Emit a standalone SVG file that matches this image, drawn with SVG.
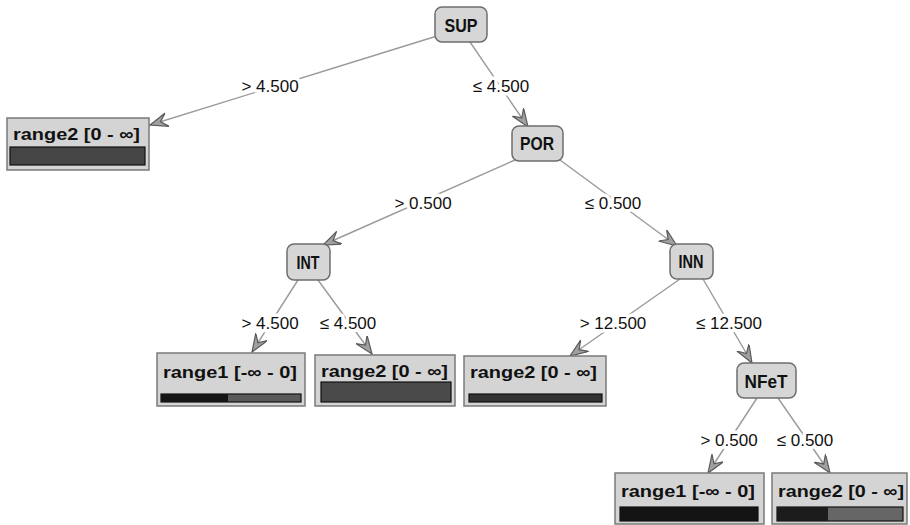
<svg xmlns="http://www.w3.org/2000/svg" width="910" height="525" viewBox="0 0 910 525">
<style>
.node rect{fill:#d6d6d6;stroke:#6e6e6e;stroke-width:1.5}
.node text{font-family:"Liberation Sans",Arial,sans-serif;font-size:18px;font-weight:bold;fill:#111;text-anchor:middle}
.leaf .box{fill:#d4d4d4;stroke:#7a7a7a;stroke-width:1.5}
.leaf text{font-family:"Liberation Sans",Arial,sans-serif;font-size:17px;font-weight:bold;fill:#111}
.bar{stroke:#111;stroke-width:1.2}
.edge{stroke:#9a9a9a;stroke-width:1.4;fill:none;marker-end:url(#arr)}
.lbl{font-family:"Liberation Sans",Arial,sans-serif;font-size:17px;fill:#111;text-anchor:middle;stroke:#fff;stroke-width:7;paint-order:stroke;stroke-linejoin:round}
</style>
<defs>
<marker id="arr" markerWidth="20" markerHeight="16" refX="18" refY="7" orient="auto" markerUnits="userSpaceOnUse">
<path d="M0,0 L18,7 L0,14 L7,7 z" fill="#a0a0a0" stroke="#5a5a5a" stroke-width="1.2"/>
</marker>
</defs>
<rect width="910" height="525" fill="#fff"/>
<g id="connectors">
<line class="edge" x1="437" y1="36" x2="150" y2="125"/>
<line class="edge" x1="470" y1="42" x2="528" y2="127"/>
<line class="edge" x1="515" y1="160" x2="323" y2="245"/>
<line class="edge" x1="560" y1="160" x2="677" y2="246"/>
<line class="edge" x1="298" y1="280" x2="252" y2="352"/>
<line class="edge" x1="318" y1="280" x2="372" y2="354"/>
<line class="edge" x1="680" y1="279" x2="570" y2="356"/>
<line class="edge" x1="703" y1="279" x2="752" y2="363"/>
<line class="edge" x1="757" y1="398" x2="708" y2="473"/>
<line class="edge" x1="778" y1="398" x2="830" y2="473"/>
<text class="lbl" x="270" y="92">&gt; 4.500</text>
<text class="lbl" x="501" y="92">≤ 4.500</text>
<text class="lbl" x="423" y="209">&gt; 0.500</text>
<text class="lbl" x="613" y="209">≤ 0.500</text>
<text class="lbl" x="270" y="329">&gt; 4.500</text>
<text class="lbl" x="348" y="329">≤ 4.500</text>
<text class="lbl" x="613" y="329">&gt; 12.500</text>
<text class="lbl" x="729" y="329">≤ 12.500</text>
<text class="lbl" x="729" y="446">&gt; 0.500</text>
<text class="lbl" x="805" y="446">≤ 0.500</text>
</g>
<g id="SUP" class="node"><rect x="435" y="7" width="52" height="35" rx="7"/><text x="461" y="32" textLength="33" lengthAdjust="spacingAndGlyphs">SUP</text></g>
<g id="POR" class="node"><rect x="512" y="126" width="51" height="35" rx="7"/><text x="537" y="150" textLength="34" lengthAdjust="spacingAndGlyphs">POR</text></g>
<g id="INT" class="node"><rect x="287" y="244" width="43" height="36" rx="7"/><text x="308" y="269" textLength="23" lengthAdjust="spacingAndGlyphs">INT</text></g>
<g id="INN" class="node"><rect x="670" y="244" width="43" height="35" rx="7"/><text x="691" y="268" textLength="25" lengthAdjust="spacingAndGlyphs">INN</text></g>
<g id="NFeT" class="node"><rect x="737" y="363" width="59" height="35" rx="7"/><text x="766" y="388" textLength="43" lengthAdjust="spacingAndGlyphs">NFeT</text></g>
<g id="leaf1" class="leaf"><rect class="box" x="7" y="118" width="142" height="52"/><text x="13" y="140" textLength="127" lengthAdjust="spacingAndGlyphs">range2 [0 - ∞]</text><rect class="bar" x="10" y="147" width="135" height="18" fill="#454545"/></g>
<g id="leaf2" class="leaf"><rect class="box" x="157" y="353" width="148" height="53"/><text x="163" y="378" textLength="134" lengthAdjust="spacingAndGlyphs">range1 [-∞ - 0]</text><rect class="bar" x="161" y="394" width="140" height="8" fill="#5a5a5a"/><rect x="161" y="394" width="67" height="8" fill="#151515"/></g>
<g id="leaf3" class="leaf"><rect class="box" x="315" y="355" width="140" height="51"/><text x="321" y="377" textLength="127" lengthAdjust="spacingAndGlyphs">range2 [0 - ∞]</text><rect class="bar" x="321" y="382" width="130" height="20" fill="#4a4a4a"/></g>
<g id="leaf4" class="leaf"><rect class="box" x="464" y="356" width="142" height="50"/><text x="470" y="378" textLength="127" lengthAdjust="spacingAndGlyphs">range2 [0 - ∞]</text><rect class="bar" x="469" y="394" width="133" height="8" fill="#333"/></g>
<g id="leaf5" class="leaf"><rect class="box" x="615" y="473" width="149" height="51"/><text x="621" y="497" textLength="134" lengthAdjust="spacingAndGlyphs">range1 [-∞ - 0]</text><rect class="bar" x="620" y="507" width="138" height="14" fill="#141414"/></g>
<g id="leaf6" class="leaf"><rect class="box" x="772" y="473" width="135" height="51"/><text x="778" y="497" textLength="126" lengthAdjust="spacingAndGlyphs">range2 [0 - ∞]</text><rect class="bar" x="777" y="507" width="126" height="14" fill="#666"/><rect x="777" y="507" width="51" height="14" fill="#1c1c1c"/></g>
</svg>
